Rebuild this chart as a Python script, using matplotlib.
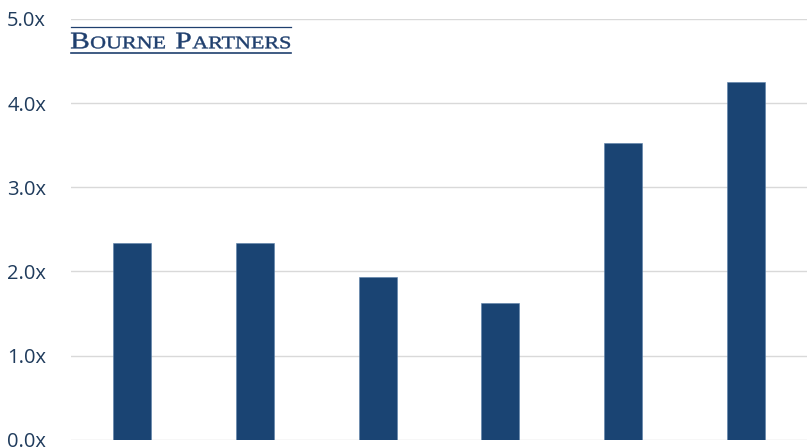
import matplotlib.pyplot as plt
from matplotlib.textpath import TextPath
from matplotlib.path import Path
from matplotlib.patches import PathPatch
from matplotlib.font_manager import FontProperties
from matplotlib.transforms import Affine2D

categories = ["A", "B", "C", "D", "E", "F"]
multiples = [2.34, 2.34, 1.94, 1.62, 3.52, 4.25]
y_ticks = [0, 1, 2, 3, 4, 5]
y_labels = ["0.0x", "1.0x", "2.0x", "3.0x", "4.0x", "5.0x"]

bar_color = "#1A4473"
text_color = "#1F3B5C"
logo_color = "#1F3F6E"

fig = plt.figure(figsize=(8.07, 4.48), dpi=100)
ax = fig.add_axes([0.088, 0.018, 0.912, 0.940])

x = range(len(categories))
ax.bar(x, multiples, width=0.31, color=bar_color, edgecolor="#5A7FA8", linewidth=0.4, zorder=3)

ax.set_ylim(0, 5)
ax.set_xlim(-0.5, len(categories) - 0.5)
ax.set_yticks(y_ticks)
ax.set_yticklabels(y_labels, fontsize=14.5, color=text_color, family="Open Sans", ha="left")
ax.tick_params(axis="y", length=0, pad=46)
ax.set_xticks([])
ax.grid(axis="y", color="#D9D9D9", linewidth=1, zorder=0)
for s in ax.spines.values():
    s.set_visible(False)

# logo: small caps serif wordmark, stretched to fit between the two rules
fp = FontProperties(family="Liberation Serif")
chunks = [("B", 17, 1.0), ("OURNE", 12.7, 6.0), ("P", 17, 1.0), ("ARTNERS", 12.7, 0)]
paths = []
xc = 0
for txt, size, gap in chunks:
    tp = TextPath((xc, 0), txt, size=size, prop=fp)
    paths.append(tp)
    xc = tp.get_extents().x1 + gap
logo = Path.make_compound_path(*paths)
ext = logo.get_extents()
cap_h = paths[0].get_extents().y1
# pixel box: x 71..290, baseline 48.3 px from top, cap height 15.6 px
tr = (Affine2D().translate(-ext.x0, 0)
      .scale(219 / ext.width, 15.6 / cap_h)
      .translate(71, 448 - 48.3))
fig.add_artist(PathPatch(logo, transform=tr, facecolor=logo_color, edgecolor=logo_color, linewidth=0.3))
fig.add_artist(plt.Line2D([71 / 807, 291 / 807], [1 - 27.3 / 448] * 2, color=logo_color, linewidth=0.9))
fig.add_artist(plt.Line2D([71 / 807, 291 / 807], [1 - 52.7 / 448] * 2, color=logo_color, linewidth=1.2))

fig.savefig("out.png", dpi=100)
